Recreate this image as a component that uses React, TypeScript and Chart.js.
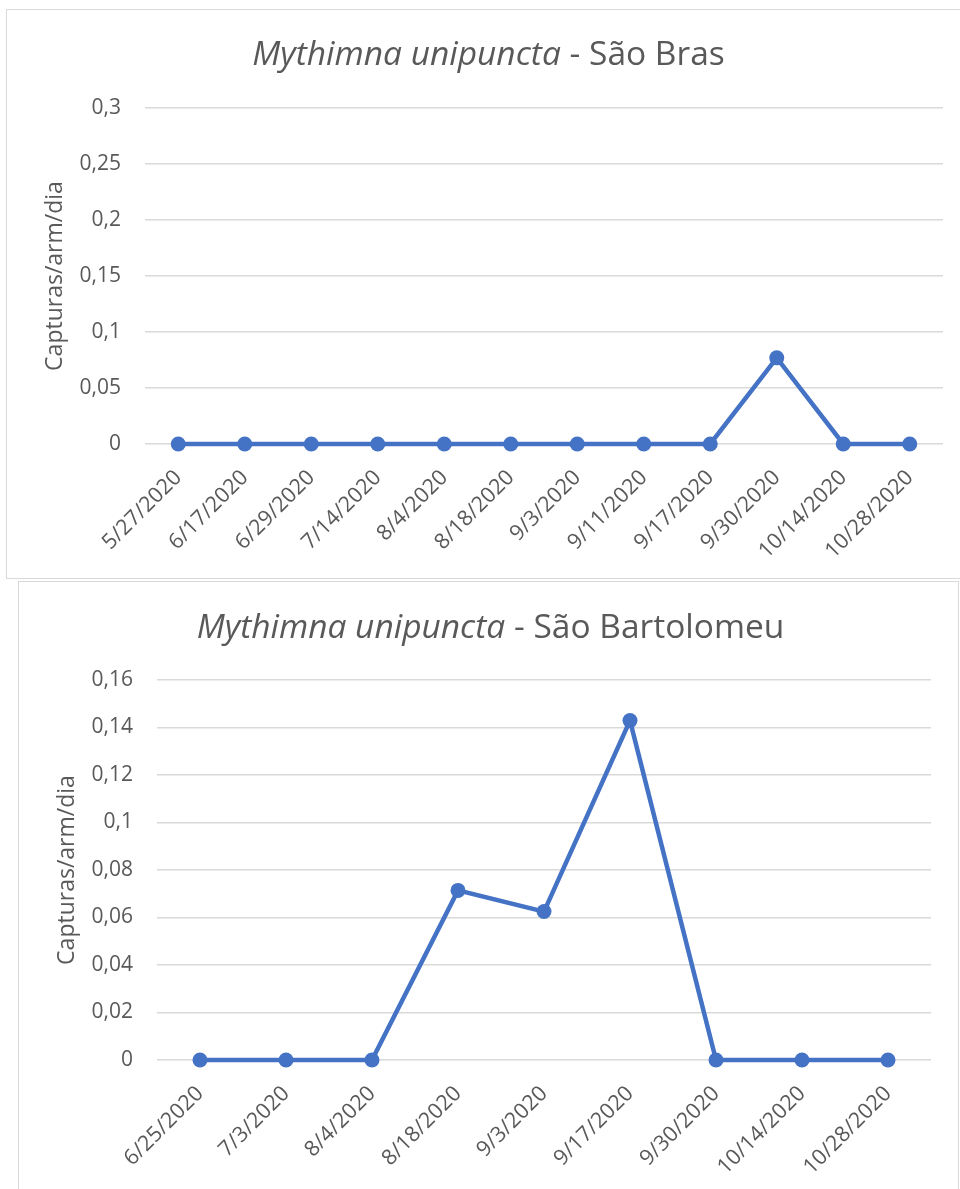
import React, { useEffect, useRef } from "react";
import { Chart, registerables } from "chart.js";

Chart.register(...registerables);

const topLabels = ["5/27/2020", "6/17/2020", "6/29/2020", "7/14/2020", "8/4/2020", "8/18/2020", "9/3/2020", "9/11/2020", "9/17/2020", "9/30/2020", "10/14/2020", "10/28/2020"];
const topValues = [0, 0, 0, 0, 0, 0, 0, 0, 0, 0.0769, 0, 0];
const topTitleItalic = "Mythimna unipuncta";
const topTitleRest = " - São Bras";

const bottomLabels = ["6/25/2020", "7/3/2020", "8/4/2020", "8/18/2020", "9/3/2020", "9/17/2020", "9/30/2020", "10/14/2020", "10/28/2020"];
const bottomValues = [0, 0, 0, 0.0714, 0.0625, 0.1429, 0, 0, 0];
const bottomTitleRest = " - São Bartolomeu";

const yAxisTitle = "Capturas/arm/dia";

const FONT = "'Open Sans', sans-serif";
const TEXT = "#595959";
const GRID = "#d9d9d9";
const BLUE = "#4472C4";

const mixedTitle = {
  id: "mixedTitle",
  afterDraw(chart: any, _args: any, opts: any) {
    const ctx = chart.ctx;
    ctx.save();
    const italic = `italic 400 ${opts.size}px ${FONT}`;
    const normal = `400 ${opts.size}px ${FONT}`;
    ctx.font = italic;
    const w1 = ctx.measureText(opts.italicPart).width;
    ctx.font = normal;
    const w2 = ctx.measureText(opts.rest).width;
    const x0 = chart.width / 2 + opts.shift - (w1 + w2) / 2;
    ctx.fillStyle = TEXT;
    ctx.textBaseline = "alphabetic";
    ctx.textAlign = "left";
    ctx.font = italic;
    ctx.fillText(opts.italicPart, x0, opts.baseline);
    ctx.font = normal;
    ctx.fillText(opts.rest, x0 + w1, opts.baseline);
    ctx.restore();
  },
};

function fmt(v: any) {
  const n = Number(Number(v).toFixed(4));
  return String(n).replace(".", ",");
}

function LineBox(props: {
  labels: string[];
  values: number[];
  max: number;
  step: number;
  rest: string;
  padRight: number;
  xHeight: number;
  shift: number;
  baseline: number;
}) {
  const ref = useRef<HTMLCanvasElement | null>(null);
  useEffect(() => {
    if (!ref.current) return;
    const chart = new Chart(ref.current, {
      type: "line",
      data: {
        labels: props.labels,
        datasets: [
          {
            data: props.values,
            borderColor: BLUE,
            backgroundColor: BLUE,
            borderWidth: 4.5,
            pointRadius: 7.5,
            pointBorderWidth: 0,
            pointBackgroundColor: BLUE,
            tension: 0,
            clip: false as any,
          },
        ],
      },
      plugins: [mixedTitle as any],
      options: {
        animation: false,
        responsive: true,
        maintainAspectRatio: false,
        layout: { padding: { left: 0, top: 98, right: props.padRight, bottom: 0 } },
        plugins: {
          legend: { display: false },
          tooltip: { enabled: false },
          mixedTitle: { italicPart: topTitleItalic, rest: props.rest, size: 33.5, shift: props.shift, baseline: props.baseline },
        } as any,
        scales: {
          x: {
            type: "category",
            offset: true,
            grid: { display: false },
            border: { display: false },
            ticks: {
              autoSkip: false,
              minRotation: 45,
              maxRotation: 45,
              padding: 13,
              color: TEXT,
              font: { family: FONT, size: 21.5 },
            },
            afterFit: (s: any) => {
              s.height = props.xHeight;
            },
          },
          y: {
            min: 0,
            max: props.max,
            ticks: {
              stepSize: props.step,
              padding: 24,
              color: TEXT,
              font: { family: FONT, size: 21 },
              callback: (v: any) => fmt(v),
            },
            grid: { color: GRID, lineWidth: 1.5, drawTicks: false },
            border: { display: false },
            title: {
              display: true,
              text: yAxisTitle,
              color: TEXT,
              font: { family: FONT, size: 23 },
              padding: { top: 35, bottom: 0 },
            },
            afterFit: (s: any) => {
              s.width = 138;
            },
          },
        },
      },
    });
    return () => chart.destroy();
  }, []);
  return <canvas ref={ref} />;
}

export default function App() {
  return (
    <div style={{ position: "absolute", left: 0, top: 0, width: 960, height: 1189, overflow: "hidden", background: "#fff" }}>
      <div style={{ position: "absolute", left: 6, top: 9, width: 960, height: 570, boxSizing: "border-box", border: `1px solid ${GRID}`, background: "#fff" }}>
        <div style={{ position: "absolute", left: 0, top: 0, width: 953, height: 568 }}>
          <LineBox labels={topLabels} values={topValues} max={0.3} step={0.05} rest={topTitleRest} padRight={17} xHeight={134} shift={5} baseline={55} />
        </div>
      </div>
      <div style={{ position: "absolute", left: 18, top: 581, width: 941, height: 620, boxSizing: "border-box", border: `1px solid ${GRID}`, background: "#fff" }}>
        <div style={{ position: "absolute", left: 0, top: 0, width: 939, height: 607 }}>
          <LineBox labels={bottomLabels} values={bottomValues} max={0.16} step={0.02} rest={bottomTitleRest} padRight={27} xHeight={129} shift={2} baseline={56} />
        </div>
      </div>
    </div>
  );
}
